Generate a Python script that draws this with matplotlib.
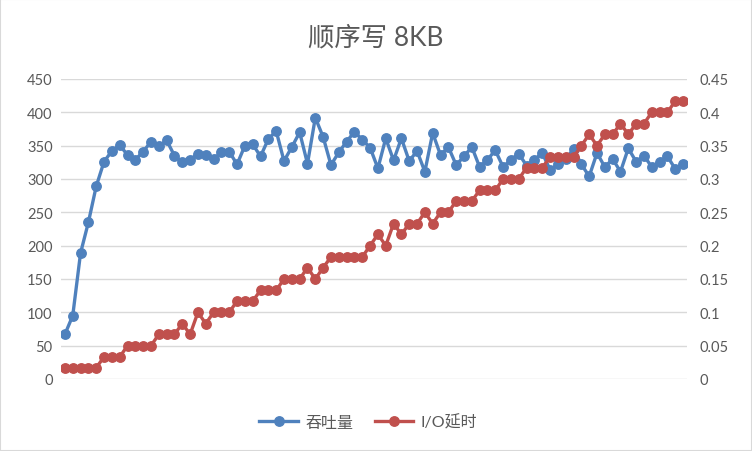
import matplotlib
matplotlib.use('Agg')
import matplotlib.pyplot as plt
from matplotlib.patches import Rectangle
from matplotlib.ticker import FuncFormatter, MultipleLocator

plt.rcParams['font.family'] = ['Lato', 'Noto Sans CJK SC', 'DejaVu Sans']

# 吞吐量 (左轴)
throughput = [67, 95, 189, 235, 289, 326, 342, 351, 336, 329,
              341, 356, 349, 358, 335, 325, 329, 338, 336, 330,
              340, 341, 322, 350, 352, 334, 360, 372, 327, 348,
              370, 323, 392, 363, 321, 340, 356, 371, 359, 347,
              316, 361, 328, 361, 327, 342, 311, 369, 336, 348,
              321, 334, 348, 318, 329, 343, 318, 329, 338, 320,
              329, 339, 314, 322, 330, 345, 322, 304, 339, 318,
              330, 311, 346, 326, 335, 318, 326, 334, 315, 323]

# I/O延时 (右轴)
latency = [0.017, 0.017, 0.017, 0.017, 0.017, 0.033, 0.033, 0.033, 0.05, 0.05,
           0.05, 0.05, 0.067, 0.067, 0.067, 0.083, 0.067, 0.1, 0.083, 0.1,
           0.1, 0.1, 0.117, 0.117, 0.117, 0.133, 0.133, 0.133, 0.15, 0.15,
           0.15, 0.167, 0.15, 0.167, 0.183, 0.183, 0.183, 0.183, 0.183, 0.2,
           0.217, 0.2, 0.233, 0.217, 0.233, 0.233, 0.25, 0.233, 0.25, 0.25,
           0.267, 0.267, 0.267, 0.283, 0.283, 0.283, 0.3, 0.3, 0.3, 0.317,
           0.317, 0.317, 0.333, 0.333, 0.333, 0.333, 0.35, 0.367, 0.35, 0.367,
           0.367, 0.383, 0.367, 0.383, 0.383, 0.4, 0.4, 0.4, 0.417, 0.417]

blue = '#4F81BD'
red = '#C0504D'
grey = '#595959'
grid = '#D9D9D9'

fig = plt.figure(figsize=(7.52, 4.52), dpi=100)
ax = fig.add_axes([61/752, 1 - 380/452, 626/752, 300/452])
ax2 = ax.twinx()

x = list(range(len(throughput)))
ax.plot(x, throughput, color=blue, lw=2.4, marker='o', ms=6.8, label='吞吐量')
ax2.plot(x, latency, color=red, lw=2.4, marker='o', ms=6.8, label='I/O延时')

ax.set_xlim(-0.5, len(x) - 0.5)
ax.set_ylim(0, 450)
ax2.set_ylim(0, 0.45)
ax.yaxis.set_major_locator(MultipleLocator(50))
ax2.yaxis.set_major_locator(MultipleLocator(0.05))
ax2.yaxis.set_major_formatter(FuncFormatter(lambda v, p: '%g' % round(v, 2)))

ax.grid(axis='y', color=grid, lw=1)
ax.set_axisbelow(True)
ax.set_xticks([])
for a in (ax, ax2):
    for s in a.spines.values():
        s.set_visible(False)
    a.tick_params(axis='y', length=0, labelsize=10.5, labelcolor=grey)
ax.tick_params(axis='y', pad=6)
ax2.tick_params(axis='y', pad=9)

fig.text(0.5, 1 - 38/452, '顺序写 8KB', ha='center', va='center',
         fontsize=19, color=grey)

h1, l1 = ax.get_legend_handles_labels()
h2, l2 = ax2.get_legend_handles_labels()
fig.legend(h1 + h2, l1 + l2, loc='center', bbox_to_anchor=(0.49, 1 - 423/452),
           ncol=2, frameon=False, fontsize=11.5, labelcolor=grey,
           handlelength=2.4, handletextpad=0.5, columnspacing=1.3)

fig.patches.append(Rectangle((0, 0), 1, 1, transform=fig.transFigure,
                             fill=False, edgecolor=grid, lw=1.5))

fig.savefig('out.png', dpi=100)
